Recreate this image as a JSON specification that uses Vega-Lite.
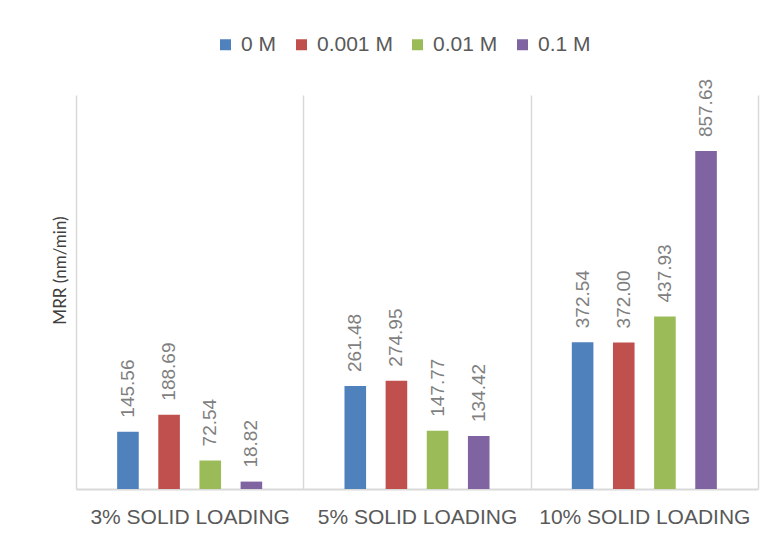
{
  "$schema": "https://vega.github.io/schema/vega-lite/v6.json",
  "width": 682,
  "height": 394,
  "autosize": {"type": "none"},
  "padding": {"left": 76, "top": 95, "right": 16, "bottom": 53},
  "background": "white",
  "config": {
    "view": {"stroke": null},
    "font": "Liberation Sans"
  },
  "data": {
    "values": [
      {"loading": "3% SOLID LOADING", "conc": "0 M", "mrr": 145.56},
      {"loading": "3% SOLID LOADING", "conc": "0.001 M", "mrr": 188.69},
      {"loading": "3% SOLID LOADING", "conc": "0.01 M", "mrr": 72.54},
      {"loading": "3% SOLID LOADING", "conc": "0.1 M", "mrr": 18.82},
      {"loading": "5% SOLID LOADING", "conc": "0 M", "mrr": 261.48},
      {"loading": "5% SOLID LOADING", "conc": "0.001 M", "mrr": 274.95},
      {"loading": "5% SOLID LOADING", "conc": "0.01 M", "mrr": 147.77},
      {"loading": "5% SOLID LOADING", "conc": "0.1 M", "mrr": 134.42},
      {"loading": "10% SOLID LOADING", "conc": "0 M", "mrr": 372.54},
      {"loading": "10% SOLID LOADING", "conc": "0.001 M", "mrr": 372.00},
      {"loading": "10% SOLID LOADING", "conc": "0.01 M", "mrr": 437.93},
      {"loading": "10% SOLID LOADING", "conc": "0.1 M", "mrr": 857.63}
    ]
  },
  "encoding": {
    "x": {
      "field": "loading",
      "type": "nominal",
      "sort": ["3% SOLID LOADING", "5% SOLID LOADING", "10% SOLID LOADING"],
      "scale": {"paddingInner": 0, "paddingOuter": 0},
      "axis": {
        "title": null,
        "labelAngle": 0,
        "labelFont": "Liberation Sans",
        "labelFontSize": 21,
        "labelColor": "#595959",
        "labelBaseline": "alphabetic",
        "labelPadding": 34,
        "labelLimit": 0,
        "ticks": false,
        "tickBand": "extent",
        "grid": true,
        "gridColor": "#d9d9d9",
        "gridWidth": 1.5,
        "domainColor": "#d9d9d9",
        "domainWidth": 2
      }
    },
    "xOffset": {
      "field": "conc",
      "type": "nominal",
      "sort": ["0 M", "0.001 M", "0.01 M", "0.1 M"],
      "scale": {"paddingInner": 0.475, "paddingOuter": 1.15}
    },
    "y": {
      "field": "mrr",
      "type": "quantitative",
      "scale": {"domain": [0, 1000]},
      "axis": {
        "title": "MRR (nm/min)",
        "labels": false,
        "ticks": false,
        "domain": false,
        "grid": false,
        "titleFont": "Lato",
        "titleFontSize": 17,
        "titleFontWeight": "normal",
        "titleColor": "#404040",
        "titleAngle": -90,
        "titleAlign": "center",
        "titleBaseline": "middle",
        "titleX": -16,
        "titleY": 175
      }
    }
  },
  "layer": [
    {
      "mark": {"type": "bar"},
      "encoding": {
        "color": {
          "field": "conc",
          "type": "nominal",
          "sort": ["0 M", "0.001 M", "0.01 M", "0.1 M"],
          "scale": {
            "domain": ["0 M", "0.001 M", "0.01 M", "0.1 M"],
            "range": ["#4f81bd", "#c0504d", "#9bbb59", "#8064a2"]
          },
          "legend": {
            "title": null,
            "orient": "none",
            "direction": "horizontal",
            "legendX": 139,
            "legendY": -61,
            "padding": 0,
            "symbolType": "square",
            "symbolSize": 121,
            "symbolStrokeWidth": 0,
            "symbolOpacity": 1,
            "labelFont": "Liberation Sans",
            "labelFontSize": 21,
            "labelColor": "#595959",
            "labelOffset": 5,
            "columnPadding": 14
          }
        }
      }
    },
    {
      "mark": {
        "type": "text",
        "angle": -90,
        "align": "left",
        "baseline": "middle",
        "dx": 14,
        "font": "Liberation Sans",
        "fontSize": 19,
        "color": "#7f7f7f"
      },
      "encoding": {
        "text": {"field": "mrr", "type": "quantitative", "format": ".2f"}
      }
    }
  ]
}
